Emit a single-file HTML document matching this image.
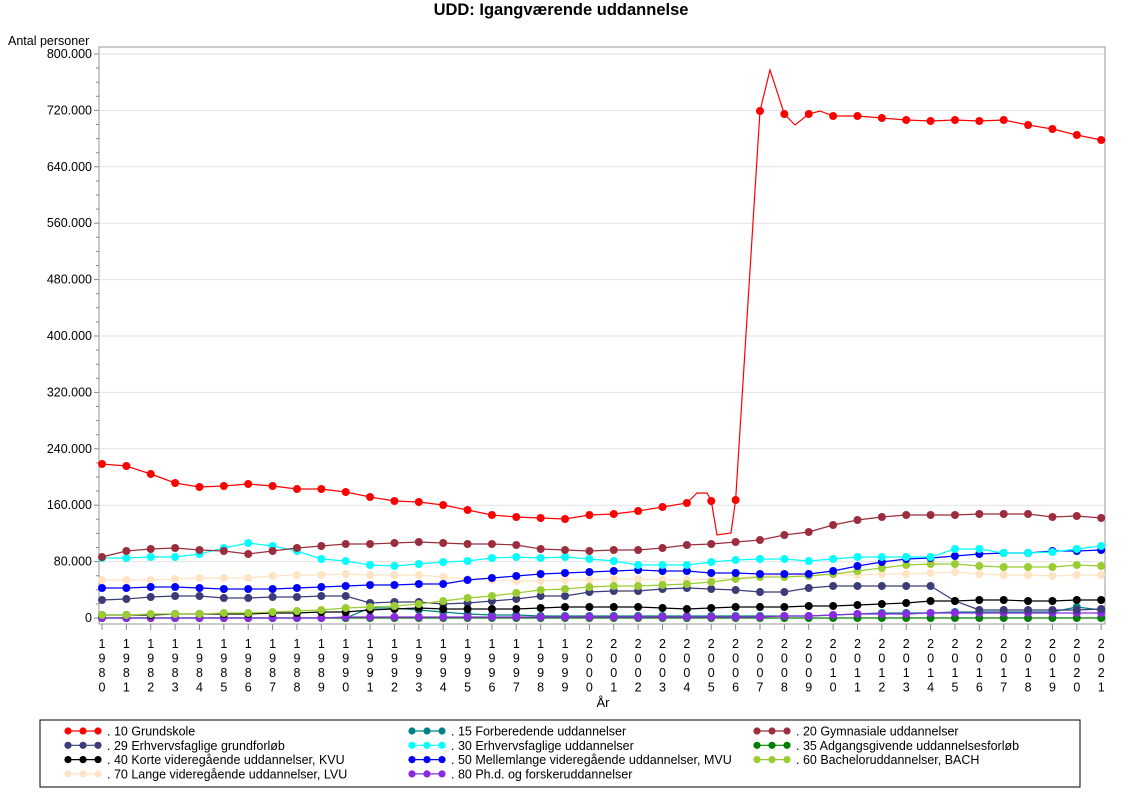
<!DOCTYPE html>
<html><head><meta charset="utf-8"><style>
body{margin:0;background:#fff;width:1122px;height:793px;overflow:hidden;font-family:"Liberation Sans",Arial,sans-serif}
</style></head><body>
<svg id="s" width="1122" height="793" xmlns="http://www.w3.org/2000/svg" font-family="Liberation Sans, Arial, sans-serif">
<text x="561" y="15" text-anchor="middle" font-size="16.5" font-weight="bold">UDD: Igangværende uddannelse</text>
<text x="8" y="45" font-size="12.5">Antal personer</text>
<rect x="99" y="47" width="1006" height="577" fill="none" stroke="#999"/>
<g id="grid"></g><g id="lines"></g>
<text x="603" y="707" text-anchor="middle" font-size="13">År</text>
<rect x="40" y="720" width="1040" height="67" fill="none" stroke="#000"/>
<g id="leg" font-size="12.5"></g>
</svg>
<script>
const NS="http://www.w3.org/2000/svg";
function el(p,t,a,txt){const e=document.createElementNS(NS,t);for(const k in a)e.setAttribute(k,a[k]);if(txt!=null)e.textContent=txt;p.appendChild(e);return e;}
const g=document.getElementById('grid'),L=document.getElementById('lines'),lg=document.getElementById('leg');
const yv=v=>618-v/80000*56.4;
for(let i=0;i<=10;i++){const y=yv(i*80000);
 if(i>0)el(g,'line',{x1:100,x2:1104,y1:y,y2:y,stroke:'#e2e2e2'});
 el(g,'line',{x1:94,x2:99,y1:y,y2:y,stroke:'#888'});
 el(g,'text',{x:92,y:y+4,'text-anchor':'end','font-size':12.5},i==0?'0':(i*80).toString().replace(/(\d)(?=(\d{3})+$)/,'$1.')+'.000');
 if(i<10)for(let m=1;m<4;m++){const ym=yv(i*80000+m*20000);el(g,'line',{x1:96,x2:99,y1:ym,y2:ym,stroke:'#888'});}
}
const xs=i=>102+i*24.37;
for(let i=0;i<42;i++){const x=xs(i),yr=String(1980+i);
 el(g,'line',{x1:x,x2:x,y1:624,y2:630,stroke:'#888'});
 for(let k=0;k<4;k++)el(g,'text',{x:x,y:648+k*14.5,'text-anchor':'middle','font-size':12.5},yr[k]);}
const S=[
['#008080',[618,618,618,618,618,618,618,618,618,618,618,608,608,610,612,614,615,615,616,616,616,616,616,616,616,616,616,616,616,616,615,614,613,613,613,612,612,612,612,612,607,610]],
['#008000',[618,618,618,618,618,618,618,618,618,618,618,618,618,618,618,618,618,618,618,618,618,618,618,618,618,618,618,618,618,618,618,618,618,618,618,618,618,618,618,618,618,618]],
['#8a2be2',[618,618,618,618,618,618,618,618,618,618,617,617,617,617,617,617,617,617,617,617,617,617,617,617,617,617,617,617,616,616,615,614,614,614,613,613,613,613,613,613,613,613]],
['#ffe4c4',[580,580,580,579,578,578,578,576,575,575,574,575,575,575,577,579,580,581,581,580,580,579,579,580,580,579,578,576,575,575,574,575,574,574,573,572,574,575,575,576,575,575]],
['#3c3c78',[600,599,597,596,596,598,598,597,597,596,596,603,602,602,604,603,601,599,596,596,592,591,591,589,588,589,590,592,592,588,586,586,586,586,586,601,610,610,610,610,610,609]],
['#000000',[615,615,615,614,614,614,614,613,613,612,612,610,609,608,609,609,609,609,608,607,607,607,607,608,609,608,607,607,607,606,606,605,604,603,601,601,600,600,601,601,600,600]],
['#9acd32',[615,615,614,614,614,613,613,612,611,610,608,607,606,604,601,598,596,593,590,589,587,586,586,585,584,582,579,577,577,576,574,571,568,565,564,564,566,567,567,567,565,566]],
['#0000ff',[588,588,587,587,588,589,589,589,588,587,586,585,585,584,584,580,578,576,574,573,572,571,570,571,571,573,573,574,574,574,571,566,562,559,558,556,554,553,553,551,551,550]],
['#00ffff',[558,558,557,557,554,548,543,546,551,559,561,565,566,564,562,561,558,557,558,557,559,561,565,565,565,562,560,559,559,561,559,557,557,557,557,549,549,553,553,552,549,546]],
['#9b2d3d',[557,551,549,548,550,551,554,551,548,546,544,544,543,542,543,544,544,545,549,550,551,550,550,548,545,544,542,540,535,532,525,520,517,515,515,515,514,514,514,517,516,518]],
['#ff0000',[464,466,474,483,487,486,484,486,489,489,492,497,501,502,505,510,515,517,518,519,515,514,511,507,503,501,500,111,114,114,116,116,118,120,121,120,121,120,125,129,135,140]]];
S.forEach(([c,d],si)=>{
 let pts=d.map((y,i)=>[xs(i),y]);
 if(si==10){pts=[];d.forEach((y,i)=>{pts.push([xs(i),y]);
   if(i==24){pts.push([697,493],[707,493]);}
   if(i==25){pts.push([717,535],[731,533]);}
   if(i==27)pts.push([770,70]);
   if(i==28)pts.push([795,125]);
   if(i==29)pts.push([820,111]);});}
 el(L,'polyline',{points:pts.map(p=>p.join(',')).join(' '),fill:'none',stroke:c,'stroke-width':1.2});
 d.forEach((y,i)=>el(L,'circle',{cx:xs(i),cy:y,r:4,fill:c}));
});
const LG=[['#ff0000','. 10 Grundskole'],['#008080','. 15 Forberedende uddannelser'],['#9b2d3d','. 20 Gymnasiale uddannelser'],
['#3c3c78','. 29 Erhvervsfaglige grundforløb'],['#00ffff','. 30 Erhvervsfaglige uddannelser'],['#008000','. 35 Adgangsgivende uddannelsesforløb'],
['#000000','. 40 Korte videregående uddannelser, KVU'],['#0000ff','. 50 Mellemlange videregående uddannelser, MVU'],['#9acd32','. 60 Bacheloruddannelser, BACH'],
['#ffe4c4','. 70 Lange videregående uddannelser, LVU'],['#8a2be2','. 80 Ph.d. og forskeruddannelser']];
const cx=[68,412,757];
LG.forEach(([c,t],i)=>{const x=cx[i%3],y=731+Math.floor(i/3)*14.3;
 el(lg,'line',{x1:x,x2:x+30,y1:y,y2:y,stroke:c,'stroke-width':1.2});
 [0,15,30].forEach(d=>el(lg,'circle',{cx:x+d,cy:y,r:3.6,fill:c}));
 el(lg,'text',{x:x+39,y:y+4.5},t);});
</script>
</body></html>
